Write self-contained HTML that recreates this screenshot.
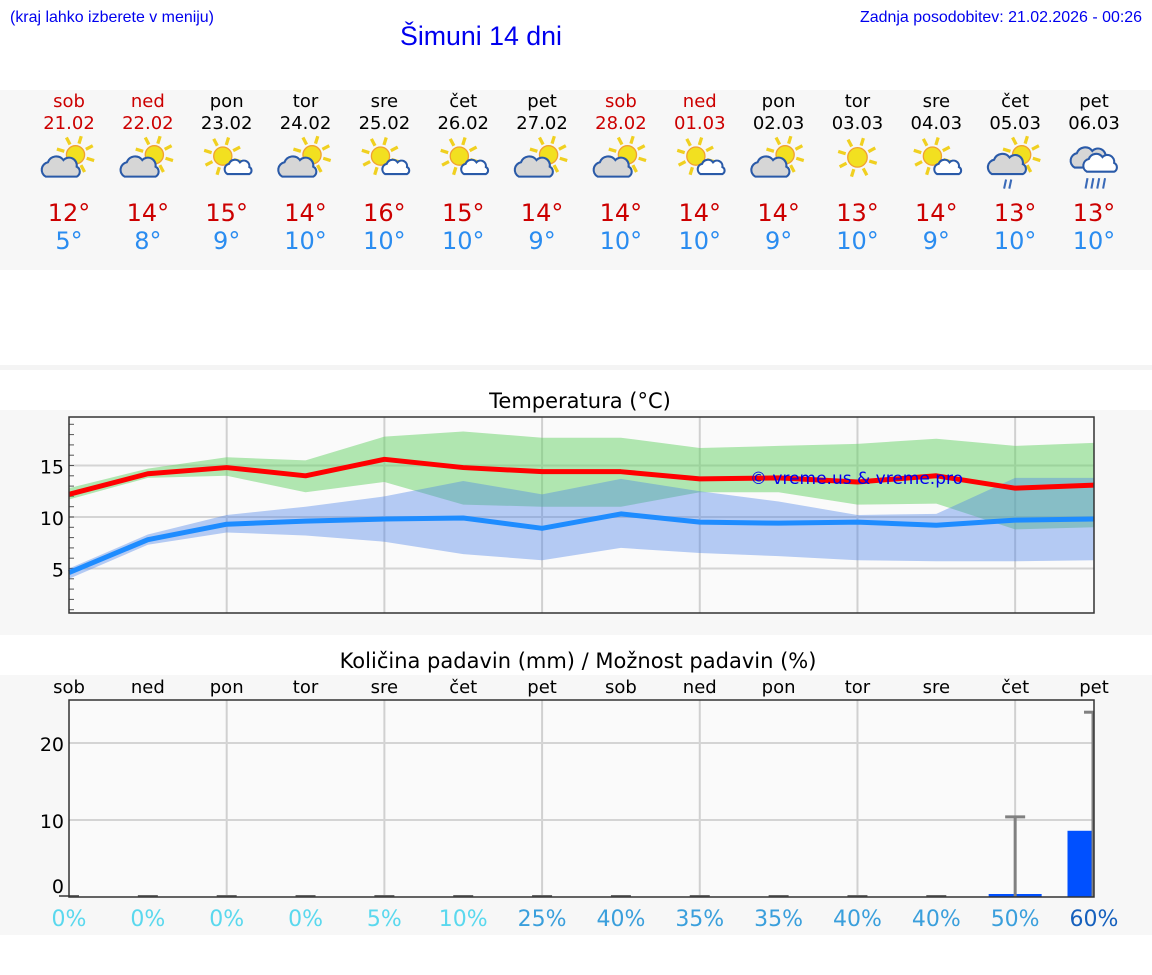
<!DOCTYPE html>
<html><head><meta charset="utf-8"><style>
html,body{margin:0;padding:0;background:#fff;width:1152px;height:975px;overflow:hidden}
svg{display:block;font-family:"DejaVu Sans","Liberation Sans",sans-serif}
</style></head><body>
<svg id="s" width="1152" height="975" viewBox="0 0 1152 975" xmlns="http://www.w3.org/2000/svg">
<rect x="0" y="90" width="1152" height="180" fill="#f7f7f7"/>
<rect x="0" y="365" width="1152" height="5" fill="#f4f4f4"/>
<rect x="0" y="410" width="1152" height="225" fill="#f7f7f7"/>
<rect x="0" y="675" width="1152" height="260" fill="#f7f7f7"/>
<text x="10" y="22" font-family="Liberation Sans" font-size="16" fill="#0000ee" textLength="204" lengthAdjust="spacingAndGlyphs">(kraj lahko izberete v meniju)</text>
<text x="1142" y="22" text-anchor="end" font-family="Liberation Sans" font-size="16" fill="#0000ee" textLength="282" lengthAdjust="spacingAndGlyphs">Zadnja posodobitev: 21.02.2026 - 00:26</text>
<text x="481" y="45" text-anchor="middle" font-family="Liberation Sans" font-size="27" fill="#0000ee" textLength="162" lengthAdjust="spacingAndGlyphs">Šimuni 14 dni</text>
<rect x="69" y="417" width="1025" height="196" fill="#fafafa"/>
<rect x="69" y="700" width="1025" height="197" fill="#fafafa"/>
<text x="580" y="408" text-anchor="middle" font-size="21" fill="#000">Temperatura (°C)</text>
<text x="578" y="668" text-anchor="middle" font-size="21" fill="#000">Količina padavin (mm) / Možnost padavin (%)</text>
<g id="g"></g>
</svg>
<script>
const days=["sob","ned","pon","tor","sre","čet","pet","sob","ned","pon","tor","sre","čet","pet"];
const dates=["21.02","22.02","23.02","24.02","25.02","26.02","27.02","28.02","01.03","02.03","03.03","04.03","05.03","06.03"];
const holiday=[1,1,0,0,0,0,0,1,1,0,0,0,0,0];
const icons=["A","A","B","A","B","B","A","A","B","A","C","B","D","E"];
const tmaxLabel=[12,14,15,14,16,15,14,14,14,14,13,14,13,13];
const tminLabel=[5,8,9,10,10,10,9,10,10,9,10,9,10,10];
const tmax=[12.2,14.2,14.8,14.0,15.6,14.8,14.4,14.4,13.7,13.8,13.4,14.0,12.8,13.1];
const tmaxHi=[12.8,14.7,15.8,15.5,17.8,18.3,17.7,17.7,16.7,16.9,17.1,17.6,16.9,17.2];
const tmaxLo=[11.7,13.8,14.0,12.4,13.4,11.2,11.0,11.0,12.4,12.4,11.2,11.3,8.8,9.0];
const tmin=[4.6,7.8,9.3,9.6,9.8,9.9,8.9,10.3,9.5,9.4,9.5,9.2,9.7,9.8];
const tminHi=[5.0,8.3,10.2,11.0,12.0,13.5,12.2,13.7,12.5,11.5,10.2,10.3,13.8,13.8];
const tminLo=[4.0,7.3,8.5,8.2,7.6,6.4,5.8,7.0,6.5,6.2,5.8,5.7,5.7,5.8];
const tempTicks=[5,10,15];
const precip=[0,0,0,0,0,0,0,0,0,0,0,0,0.2,8.6];
const precipHi=[0,0,0,0,0,0,0,0,0,0,0,0,10.4,24];
const precipTicks=[0,10,20];
const chance=[0,0,0,0,5,10,25,40,35,35,40,40,50,60];

const g=document.getElementById('g');
const NS="http://www.w3.org/2000/svg";
let tgt=g;
function el(t,a,txt){const e=document.createElementNS(NS,t);for(const k in a)e.setAttribute(k,a[k]);if(txt!=null)e.textContent=txt;tgt.appendChild(e);return e;}
const X0=69,X1=1094,step=(X1-X0)/13;
const xd=i=>X0+i*step;
const yT=v=>517-(v-10)*10.3;
const yP=v=>897-v*7.7;

for(let i=0;i<14;i++){
  const x=xd(i),c=holiday[i]?"#cc0000":"#000";
  let e=el('text',{x:x,y:107,'text-anchor':'middle','font-size':18,fill:c},days[i]);
  
  e=el('text',{x:x,y:129,'text-anchor':'middle','font-size':18,fill:c},dates[i]);
  
  e=el('text',{x:x,y:221,'text-anchor':'middle','font-size':24,fill:"#cc0000"},tmaxLabel[i]+"°");
  
  e=el('text',{x:x,y:249,'text-anchor':'middle','font-size':24,fill:"#2a8cf0"},tminLabel[i]+"°");
  
  const gi=el('g',{transform:`translate(${x},160) scale(1.3)`});
  
  tgt=gi;drawIcon(icons[i],0,0);tgt=g;
}
function sun(cx,cy,r){
  for(let k=0;k<8;k++){const a=k*Math.PI/4+0.3;el('line',{x1:cx+Math.cos(a)*(r+2),y1:cy+Math.sin(a)*(r+2),x2:cx+Math.cos(a)*(r+8),y2:cy+Math.sin(a)*(r+8),stroke:"#f0d020","stroke-width":2.5});}
  el('circle',{cx:cx,cy:cy,r:r,fill:"#f2e020",stroke:"#f0a030","stroke-width":1});
}
function cloud(cx,cy,s,fill){
  const p=`M${cx-14*s},${cy+8*s} a${7*s},${7*s} 0 0 1 ${2*s},${-13*s} a${8*s},${8*s} 0 0 1 ${14*s},${-2*s} a${7*s},${7*s} 0 0 1 ${12*s},${6*s} a${5*s},${5*s} 0 0 1 ${0},${9*s} z`;
  el('path',{d:p,fill:fill,stroke:"#2a5aa8","stroke-width":1.6});
}
function drawIcon(t,x,y){
  if(t==="A"){sun(x+5,y-4,7);cloud(x-6,y+6,0.85,"#d6d6d6");}
  else if(t==="B"){sun(x-3,y-3,7);cloud(x+9,y+6,0.6,"#fff");}
  else if(t==="C"){sun(x,y-2,7.5);}
  else if(t==="D"){sun(x+5,y-4,7);cloud(x-6,y+4,0.85,"#d6d6d6");
    el('line',{x1:x-7,y1:y+15,x2:x-8.5,y2:y+22,stroke:"#3a6ab8","stroke-width":1.6});
    el('line',{x1:x-3,y1:y+15,x2:x-4.5,y2:y+22,stroke:"#3a6ab8","stroke-width":1.6});}
  else{cloud(x-3,y-1,0.85,"#d6d6d6");cloud(x+5,y+3,0.75,"#fff");
    for(let k=0;k<4;k++)el('line',{x1:x-5+k*4.5,y1:y+14,x2:x-6.5+k*4.5,y2:y+22,stroke:"#3a6ab8","stroke-width":1.6});}
}

for(let i=2;i<13;i+=2){el('line',{x1:xd(i),y1:417,x2:xd(i),y2:613,stroke:"#d0d0d0","stroke-width":2});}
for(const v of tempTicks){
  el('line',{x1:X0,y1:yT(v),x2:X1,y2:yT(v),stroke:"#d4d4d4","stroke-width":2});
  const e=el('text',{x:64,y:yT(v)+8,'text-anchor':'end','font-size':19,fill:"#000"},v);
  
}
for(let v=1;v<=19;v++){el('line',{x1:X0,y1:yT(v),x2:X0+5,y2:yT(v),stroke:"#555","stroke-width":1});}
function band(hi,lo,fill,op,name){
  let d="M"+hi.map((v,i)=>xd(i)+","+yT(v)).join(" L")+" L"+lo.map((v,i)=>xd(i)+","+yT(v)).reverse().join(" L")+" Z";
  const e=el('path',{d:d,fill:fill,'fill-opacity':op});
  
}
band(tmaxHi,tmaxLo,"#66d266",0.5,"max-temp-range");
band(tminHi,tminLo,"#4a82e8",0.4,"min-temp-range");
function line(arr,col,name){
  const e=el('polyline',{points:arr.map((v,i)=>xd(i)+","+yT(v)).join(" "),fill:"none",stroke:col,"stroke-width":5,"stroke-linejoin":"round"});
  
}
line(tmin,"#1e8cff","min-temp-line");
line(tmax,"#ff0000","max-temp-line");
let w=el('text',{x:750,y:484,'font-size':17,fill:"#0000ee"},"© vreme.us & vreme.pro");

el('rect',{x:X0,y:417,width:X1-X0,height:196,fill:"none",stroke:"#333","stroke-width":1.5});

for(let i=2;i<13;i+=2){el('line',{x1:xd(i),y1:700,x2:xd(i),y2:897,stroke:"#d0d0d0","stroke-width":2});}
for(const v of precipTicks){
  if(v>0)el('line',{x1:X0,y1:yP(v),x2:X1,y2:yP(v),stroke:"#d4d4d4","stroke-width":2});
  const e=el('text',{x:64,y:yP(v)+(v?8:-4),'text-anchor':'end','font-size':19,fill:"#000"},v);
  
}
for(let i=0;i<14;i++){
  const x=xd(i);
  let e=el('text',{x:x,y:693,'text-anchor':'middle','font-size':18,fill:"#000"},days[i]);
  
  const bw=53,bx=Math.max(X0,x-bw/2),bx2=Math.min(X1,x+bw/2);
  if(precip[i]>0){
    const h=Math.max(3,897-yP(precip[i]));
    e=el('rect',{x:bx,y:897-h,width:bx2-bx,height:h,fill:"#0050ff"});
    
  }
  if(precipHi[i]>0){
    el('line',{x1:Math.min(x,X1-1),y1:yP(precipHi[i]),x2:Math.min(x,X1-1),y2:897,stroke:"#808080","stroke-width":3});
    el('line',{x1:x-10,y1:yP(precipHi[i]),x2:Math.min(x+10,X1),y2:yP(precipHi[i]),stroke:"#808080","stroke-width":3});
  } else {
    el('line',{x1:x-10,y1:896,x2:x+10,y2:896,stroke:"#666","stroke-width":2});
  }
  const c=chance[i]>=60?"#1560bd":chance[i]>=25?"#3a9fdc":"#5ad8ee";
  e=el('text',{x:x,y:926,'text-anchor':'middle','font-size':22,fill:c},chance[i]+"%");
  
}
el('rect',{x:X0,y:700,width:X1-X0,height:197,fill:"none",stroke:"#333","stroke-width":1.5});
</script>
</body></html>
